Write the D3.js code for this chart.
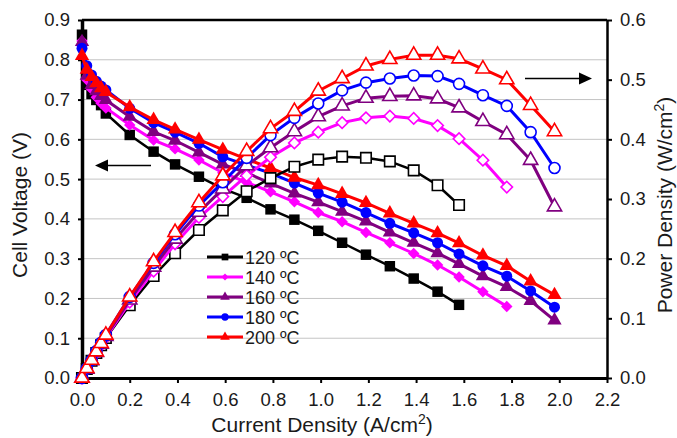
<!DOCTYPE html>
<html>
<head>
<meta charset="utf-8">
<script src="https://cdn.jsdelivr.net/npm/d3@7"></script>
<style>
  body { margin: 0; background: #fff; }
  text { font-family: "Liberation Sans", Arial, sans-serif; fill: #1a1a1a; }
</style>
</head>
<body>
<svg id="chart" width="677" height="438"></svg>
<script>
// Current density (A/cm2) at each measured point
const currents = [0, 0.02, 0.04, 0.06, 0.08, 0.1, 0.2, 0.3, 0.39, 0.49, 0.59, 0.69, 0.79, 0.89,
                  0.99, 1.09, 1.19, 1.29, 1.39, 1.49, 1.58, 1.68, 1.78, 1.88, 1.98];

// Cell voltage (V) for each temperature
const volt120 = [0.863, 0.737, 0.714, 0.699, 0.686, 0.665, 0.611, 0.569, 0.537, 0.506, 0.476, 0.453, 0.424,
                 0.398, 0.370, 0.340, 0.310, 0.281, 0.250, 0.217, 0.184];
const volt140 = [0.847, 0.750, 0.726, 0.706, 0.691, 0.679, 0.636, 0.598, 0.576, 0.548, 0.516, 0.492, 0.468,
                 0.443, 0.416, 0.393, 0.366, 0.340, 0.313, 0.284, 0.254, 0.217, 0.180];
const volt160 = [0.845, 0.760, 0.737, 0.721, 0.709, 0.699, 0.657, 0.619, 0.597, 0.567, 0.537, 0.516, 0.489,
                 0.464, 0.442, 0.418, 0.394, 0.366, 0.340, 0.314, 0.287, 0.256, 0.229, 0.194, 0.145];
const volt180 = [0.829, 0.785, 0.762, 0.746, 0.734, 0.724, 0.678, 0.642, 0.618, 0.590, 0.556, 0.535, 0.515,
                 0.490, 0.465, 0.442, 0.416, 0.389, 0.365, 0.340, 0.312, 0.282, 0.256, 0.219, 0.178];
const volt200 = [0.810, 0.775, 0.757, 0.741, 0.729, 0.719, 0.681, 0.649, 0.625, 0.599, 0.574, 0.550, 0.528,
                 0.504, 0.485, 0.463, 0.440, 0.414, 0.389, 0.364, 0.339, 0.308, 0.282, 0.243, 0.209];

// Power density (W/cm2) for each temperature
const power120 = [0, 0.015, 0.029, 0.042, 0.055, 0.067, 0.122, 0.171, 0.209, 0.248, 0.281, 0.313, 0.335,
                  0.354, 0.366, 0.371, 0.369, 0.363, 0.348, 0.323, 0.290];
const power140 = [0, 0.015, 0.029, 0.042, 0.055, 0.068, 0.127, 0.179, 0.225, 0.269, 0.304, 0.339, 0.370,
                  0.394, 0.412, 0.428, 0.436, 0.439, 0.435, 0.423, 0.401, 0.365, 0.320];
const power160 = [0, 0.015, 0.029, 0.043, 0.057, 0.070, 0.131, 0.186, 0.233, 0.278, 0.317, 0.356, 0.386,
                  0.413, 0.438, 0.456, 0.469, 0.472, 0.473, 0.468, 0.453, 0.430, 0.408, 0.365, 0.287];
const power180 = [0, 0.016, 0.030, 0.045, 0.059, 0.072, 0.136, 0.193, 0.241, 0.289, 0.328, 0.369, 0.407,
                  0.436, 0.460, 0.482, 0.495, 0.502, 0.507, 0.506, 0.493, 0.474, 0.456, 0.412, 0.352];
const power200 = [0, 0.016, 0.030, 0.044, 0.058, 0.072, 0.136, 0.195, 0.244, 0.294, 0.339, 0.380, 0.418,
                  0.447, 0.481, 0.502, 0.523, 0.534, 0.541, 0.541, 0.535, 0.518, 0.500, 0.457, 0.413];

const seriesLabels = ["120 ºC", "140 ºC", "160 ºC", "180 ºC", "200 ºC"];
const seriesColors = ["#000000", "#ff00ff", "#800080", "#0000ff", "#ff0000"];

const xTicks = [0, 0.2, 0.4, 0.6, 0.8, 1.0, 1.2, 1.4, 1.6, 1.8, 2.0, 2.2];
const voltTicks = [0, 0.1, 0.2, 0.3, 0.4, 0.5, 0.6, 0.7, 0.8, 0.9];
const powerTicks = [0, 0.1, 0.2, 0.3, 0.4, 0.5, 0.6];

// ---- layout ----
const svg = d3.select("#chart");
const plotLeft = 82, plotRight = 607, plotTop = 20, plotBottom = 378;

const x = d3.scaleLinear().domain([0, 2.2]).range([plotLeft, plotRight]);
const yV = d3.scaleLinear().domain([0, 0.9]).range([plotBottom, plotTop]);
const yP = d3.scaleLinear().domain([0, 0.6]).range([plotBottom, plotTop]);

const symbolTypes = [d3.symbolSquare, d3.symbolDiamond2, d3.symbolTriangle, d3.symbolCircle, d3.symbolTriangle];
const markerSizes = [110, 66, 88, 95, 88];
const legendSizes = [45, 24, 40, 42, 40];

const series = seriesLabels.map((label, i) => ({
  label,
  color: seriesColors[i],
  symbol: symbolTypes[i],
  size: markerSizes[i],
  legendSize: legendSizes[i],
  volt: [volt120, volt140, volt160, volt180, volt200][i].map((v, k) => ({ i: currents[k], v })),
  power: [power120, power140, power160, power180, power200][i].map((p, k) => ({ i: currents[k], p }))
}));

// diamond symbol drawn as a square turned by 45 degrees
function symbolPath(s, size) {
  if (s === d3.symbolDiamond2) return d3.symbol(d3.symbolSquare, size)();
  return d3.symbol(s, size)();
}
function symbolRotate(s) { return s === d3.symbolDiamond2 ? " rotate(45)" : ""; }

// ---- horizontal gridlines at voltage ticks ----
svg.append("g").selectAll("line")
  .data(voltTicks.filter(v => v > 0 && v < 0.9))
  .join("line")
  .attr("x1", plotLeft).attr("x2", plotRight)
  .attr("y1", d => yV(d)).attr("y2", d => yV(d))
  .attr("stroke", "#c4c4c4").attr("stroke-width", 1);

// ---- axes ----
const fmt = d3.format(".1f");
const xAxis = svg.append("g").attr("transform", `translate(0,${plotBottom})`)
  .call(d3.axisBottom(x).tickValues(xTicks).tickFormat(fmt).tickSize(5).tickSizeOuter(0).tickPadding(10));
const yAxisL = svg.append("g").attr("transform", `translate(${plotLeft},0)`)
  .call(d3.axisLeft(yV).tickValues(voltTicks).tickFormat(fmt).tickSize(4).tickSizeOuter(0).tickPadding(8));
const yAxisR = svg.append("g").attr("transform", `translate(${plotRight},0)`)
  .call(d3.axisRight(yP).tickValues(powerTicks).tickFormat(fmt).tickSize(5).tickSizeOuter(0).tickPadding(8));

[xAxis, yAxisL, yAxisR].forEach(g => {
  g.selectAll("text").style("font-size", "18.5px").attr("fill", "#1a1a1a");
  g.selectAll("line").attr("stroke", "#000").attr("stroke-width", 2);
});
xAxis.select(".domain").attr("stroke", "#000").attr("stroke-width", 3);
yAxisL.select(".domain").attr("stroke", "#000").attr("stroke-width", 3.5);
yAxisR.select(".domain").attr("stroke", "#000").attr("stroke-width", 2.5);

// top frame line
svg.append("line")
  .attr("x1", plotLeft).attr("x2", plotRight).attr("y1", plotTop).attr("y2", plotTop)
  .attr("stroke", "#000").attr("stroke-width", 2.5);

// ---- polarization curves (filled markers) ----
const lineV = d3.line().x(d => x(d.i)).y(d => yV(d.v));
const lineP = d3.line().x(d => x(d.i)).y(d => yP(d.p));

const gV = svg.append("g");
series.forEach(s => {
  gV.append("path").datum(s.volt)
    .attr("d", lineV).attr("fill", "none")
    .attr("stroke", s.color).attr("stroke-width", s.color === "#000000" ? 2.5 : 3);
  gV.append("g").selectAll("path").data(s.volt).join("path")
    .attr("d", symbolPath(s.symbol, s.size))
    .attr("transform", d => `translate(${x(d.i)},${yV(d.v)})` + symbolRotate(s.symbol))
    .attr("fill", s.color);
});

// ---- power density curves (open markers) ----
const gP = svg.append("g");
series.forEach(s => {
  gP.append("path").datum(s.power)
    .attr("d", lineP).attr("fill", "none")
    .attr("stroke", s.color).attr("stroke-width", s.color === "#000000" ? 2.5 : 3);
  gP.append("g").selectAll("path").data(s.power).join("path")
    .attr("d", symbolPath(s.symbol, s.size))
    .attr("transform", d => `translate(${x(d.i)},${yP(d.p)})` + symbolRotate(s.symbol))
    .attr("fill", "#fff").attr("stroke", s.color).attr("stroke-width", 1.6);
});

// ---- direction arrows ----
function arrow(x1, x2, y) {
  const dir = Math.sign(x2 - x1);
  svg.append("line").attr("x1", x1).attr("x2", x2 - dir * 10).attr("y1", y).attr("y2", y)
    .attr("stroke", "#000").attr("stroke-width", 1.5);
  svg.append("path")
    .attr("d", `M${x2},${y} L${x2 - dir * 13},${y - 6} L${x2 - dir * 13},${y + 6} Z`)
    .attr("fill", "#000");
}
arrow(151, 95, 165.5);
arrow(525, 592, 78.5);

// ---- legend ----
const legend = svg.append("g");
series.forEach((s, k) => {
  const ly = 257 + k * 20;
  legend.append("line").attr("x1", 207).attr("x2", 243).attr("y1", ly).attr("y2", ly)
    .attr("stroke", s.color).attr("stroke-width", 3);
  legend.append("path")
    .attr("d", symbolPath(s.symbol, s.legendSize))
    .attr("transform", `translate(225,${ly})` + symbolRotate(s.symbol))
    .attr("fill", s.color);
  legend.append("text").attr("x", 245).attr("y", ly + 6.5)
    .style("font-size", "18px").text(s.label);
});

// ---- axis titles ----
const xt = svg.append("text").attr("x", 322).attr("y", 432)
  .attr("text-anchor", "middle").style("font-size", "21px");
xt.append("tspan").text("Current Density (A/cm");
xt.append("tspan").attr("dy", -8).style("font-size", "14px").text("2");
xt.append("tspan").attr("dy", 8).text(")");

svg.append("text").attr("transform", "translate(27,205) rotate(-90)")
  .attr("text-anchor", "middle").style("font-size", "21px").text("Cell Voltage (V)");

const pt = svg.append("text").attr("transform", "translate(672,205) rotate(-90)")
  .attr("text-anchor", "middle").style("font-size", "21px");
pt.append("tspan").text("Power Density (W/cm");
pt.append("tspan").attr("dy", -8).style("font-size", "14px").text("2");
pt.append("tspan").attr("dy", 8).text(")");
</script>
</body>
</html>
